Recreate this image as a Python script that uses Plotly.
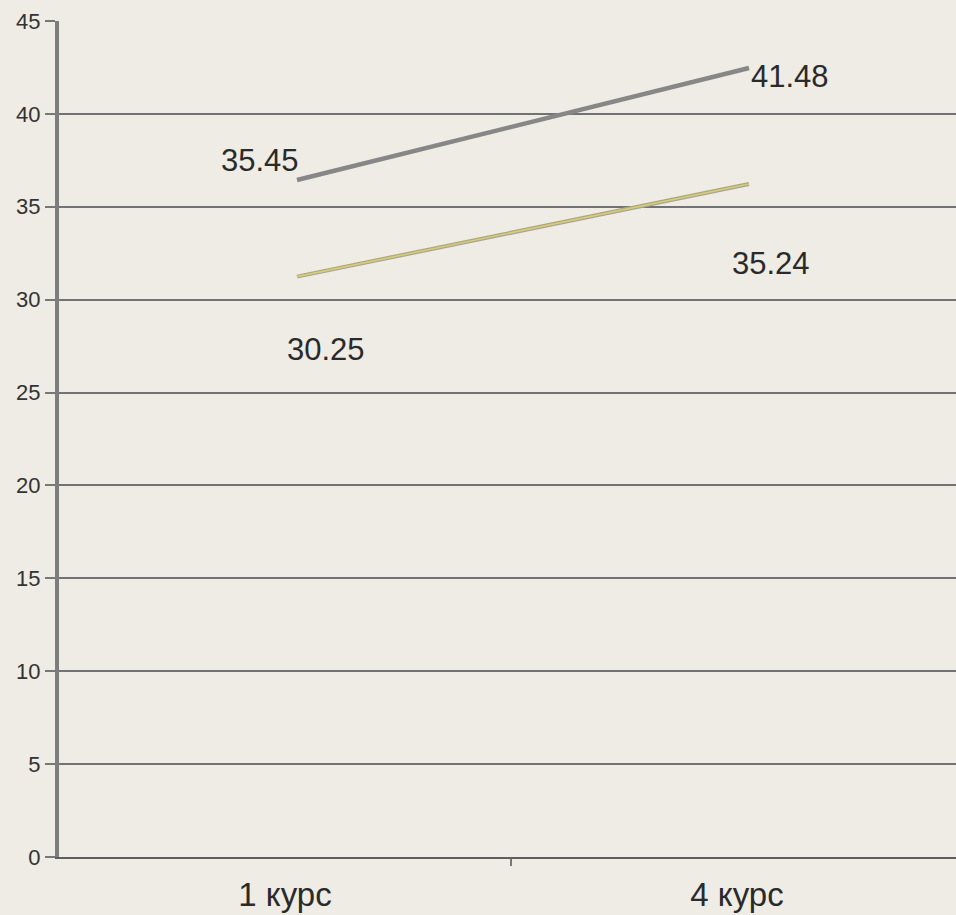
import plotly.graph_objects as go

categories = ["1 курс", "4 курс"]
series_upper = [35.45, 41.48]
series_lower = [30.25, 35.24]
y_tick_values = [0, 5, 10, 15, 20, 25, 30, 35, 40, 45]

BG = "#EEECE5"
FONT = "Liberation Sans, Arial, sans-serif"
TXT = "#2a2a2a"

# pseudo-3D depth offset of the line layer (in axis units)
depth_x = 12 / 452
depth_y = 0.99
x_range = [-0.5, -0.5 + 897 / 452]
y_range = [0, 45]

fig = go.Figure()
# anchor trace so the base axes are drawn
fig.add_trace(go.Scatter(x=[None], y=[None], mode="lines", showlegend=False,
                         hoverinfo="skip", xaxis="x", yaxis="y"))
fig.add_trace(go.Scatter(x=categories, y=series_upper, mode="lines",
                         line=dict(color="#878787", width=4.5),
                         xaxis="x2", yaxis="y2", showlegend=False))
fig.add_trace(go.Scatter(x=categories, y=series_lower, mode="lines",
                         line=dict(color="#A9A68C", width=4),
                         xaxis="x2", yaxis="y2", showlegend=False))
fig.add_trace(go.Scatter(x=categories, y=series_lower, mode="lines",
                         line=dict(color="#D8CD72", width=1.6),
                         xaxis="x2", yaxis="y2", showlegend=False))

# label offsets (px) per series / point
label_shifts_upper = [(-37, 20), (41, -8)]
label_shifts_lower = [(29, -73), (22, -80)]
annotations = []
for vals, shifts in ((series_upper, label_shifts_upper), (series_lower, label_shifts_lower)):
    for c, v, (dx, dy) in zip(categories, vals, shifts):
        annotations.append(dict(x=c, y=v, xref="x2", yref="y2", text=f"{v:.2f}",
                                showarrow=False, xshift=dx, yshift=dy,
                                xanchor="center", yanchor="middle",
                                font=dict(family=FONT, size=31, color=TXT)))

fig.update_layout(
    width=956, height=915,
    margin=dict(l=59, r=0, t=21, b=58),
    paper_bgcolor=BG, plot_bgcolor=BG,
    showlegend=False,
    annotations=annotations,
    xaxis=dict(type="linear", range=x_range,
               tickvals=list(range(len(categories))), ticktext=categories,
               ticks="", showgrid=False, zeroline=False, ticklabelstandoff=7,
               showline=True, linecolor="#5e5e5e", linewidth=2,
               tickfont=dict(family=FONT, size=33, color=TXT),
               minor=dict(tickvals=[0.5], ticks="outside", ticklen=7,
                          tickcolor="#777777", tickwidth=1.5, showgrid=False),
               fixedrange=True),
    yaxis=dict(range=y_range, tickvals=y_tick_values,
               ticks="outside", ticklen=10, tickcolor="#777777", tickwidth=2,
               showgrid=True, gridcolor="#727272", gridwidth=2,
               zeroline=False, showline=True, linecolor="#7d7d7d", linewidth=4,
               tickfont=dict(family=FONT, size=22, color="#333333"),
               fixedrange=True),
    xaxis2=dict(type="category", overlaying="x", categoryorder="array",
                categoryarray=categories,
                range=[x_range[0] - depth_x, x_range[1] - depth_x],
                visible=False, fixedrange=True),
    yaxis2=dict(overlaying="y", range=[y_range[0] - depth_y, y_range[1] - depth_y],
                visible=False, fixedrange=True),
)

fig.write_html("out.html", config={"displayModeBar": False},
               post_script="document.body.style.margin='0';document.body.style.overflow='hidden';")
